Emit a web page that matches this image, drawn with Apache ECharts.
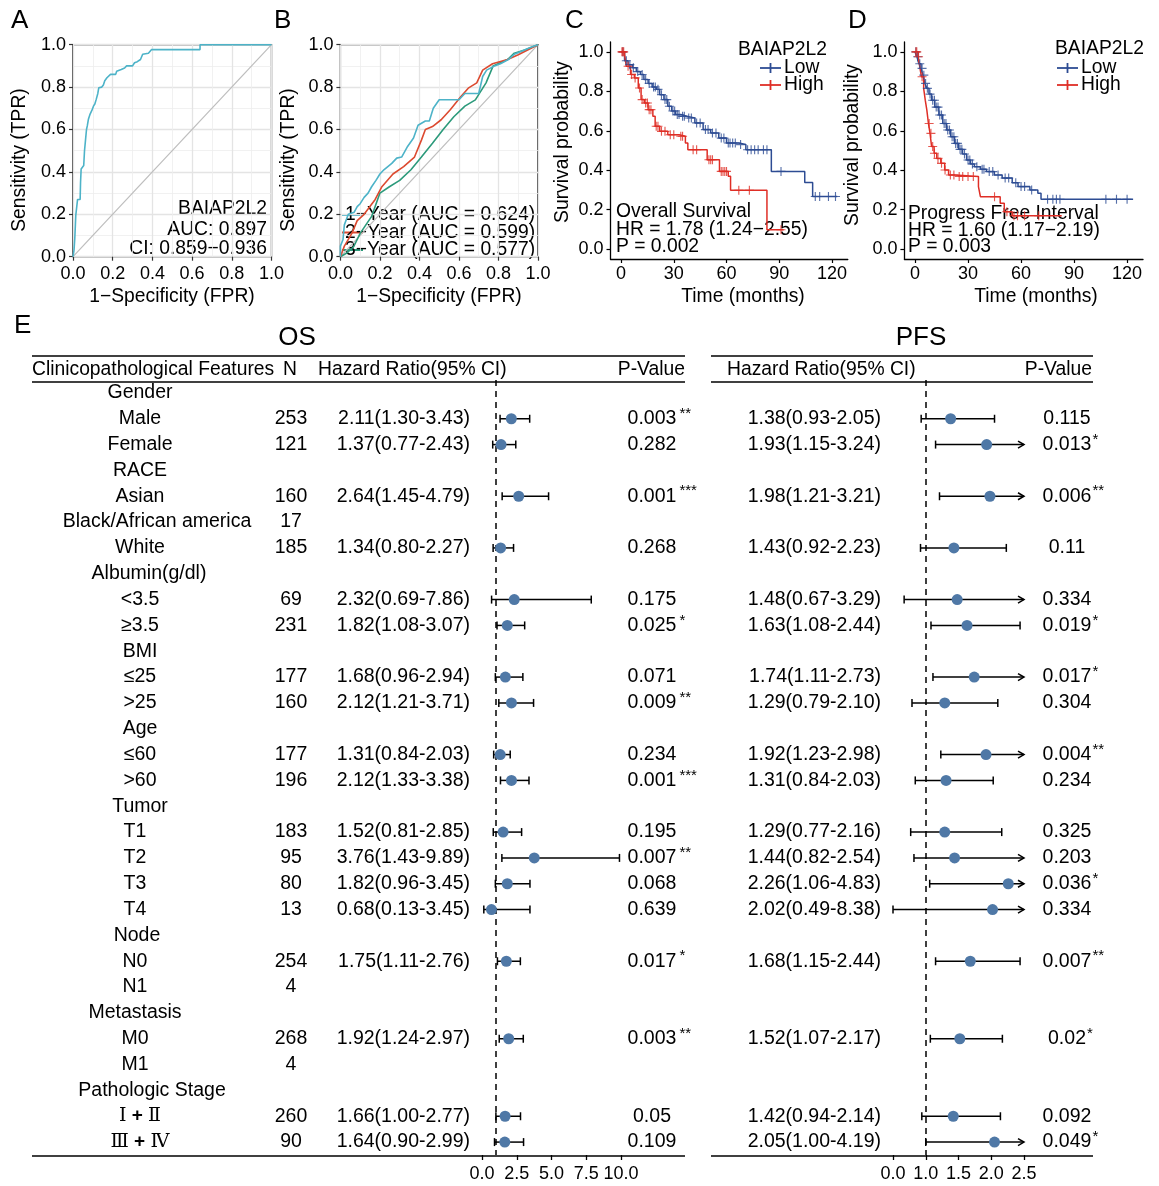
<!DOCTYPE html>
<html><head><meta charset="utf-8">
<script src="https://cdn.jsdelivr.net/npm/echarts@6/dist/echarts.min.js"></script>
<style>html,body{margin:0;padding:0;background:#fff}#c{width:1159px;height:1186px}</style>
</head><body><div id="c"></div><script>
// ---------------- DATA ----------------
const rocA = [[0,0],[0.005,0.03],[0.009,0.086],[0.012,0.15],[0.014,0.195],[0.02,0.2],[0.023,0.27],[0.036,0.27],[0.038,0.35],[0.041,0.414],[0.05,0.42],[0.054,0.43],[0.058,0.5],[0.063,0.55],[0.068,0.6],[0.072,0.617],[0.078,0.65],[0.085,0.67],[0.095,0.69],[0.103,0.71],[0.11,0.72],[0.117,0.742],[0.125,0.77],[0.13,0.797],[0.145,0.8],[0.153,0.81],[0.16,0.83],[0.171,0.844],[0.18,0.85],[0.189,0.86],[0.215,0.86],[0.22,0.875],[0.243,0.883],[0.26,0.89],[0.27,0.9],[0.3,0.9],[0.31,0.915],[0.324,0.92],[0.34,0.93],[0.351,0.955],[0.38,0.96],[0.396,0.977],[0.64,0.977],[0.64,1.0],[1,1]];
const rocB1 = [[0,0],[0,0.05],[0.013,0.08],[0.02,0.15],[0.04,0.2],[0.07,0.21],[0.085,0.236],[0.1,0.25],[0.12,0.28],[0.14,0.3],[0.158,0.33],[0.18,0.36],[0.2,0.39],[0.22,0.41],[0.24,0.425],[0.26,0.44],[0.285,0.465],[0.31,0.47],[0.34,0.52],[0.37,0.56],[0.393,0.62],[0.43,0.64],[0.45,0.64],[0.47,0.7],[0.5,0.74],[0.6,0.74],[0.63,0.77],[0.7,0.77],[0.72,0.85],[0.74,0.88],[0.78,0.9],[0.81,0.91],[0.85,0.93],[0.88,0.955],[0.92,0.97],[0.955,0.984],[1,1]];
const rocB2 = [[0,0],[0.02,0.05],[0.058,0.11],[0.085,0.17],[0.12,0.2],[0.176,0.27],[0.21,0.33],[0.266,0.39],[0.32,0.425],[0.375,0.47],[0.41,0.55],[0.43,0.6],[0.466,0.614],[0.51,0.646],[0.556,0.693],[0.61,0.756],[0.647,0.795],[0.69,0.82],[0.72,0.88],[0.77,0.91],[0.846,0.93],[0.9,0.953],[1,1]];
const rocB3 = [[0,0],[0.03,0.016],[0.067,0.047],[0.1,0.11],[0.158,0.19],[0.2,0.3],[0.248,0.33],[0.3,0.36],[0.357,0.41],[0.41,0.47],[0.466,0.535],[0.52,0.6],[0.574,0.66],[0.63,0.71],[0.683,0.74],[0.737,0.82],[0.773,0.9],[0.846,0.93],[0.88,0.96],[0.937,0.976],[1,1]];
const rocBNames = ['1\u2212Year (AUC = 0.624)','2\u2212Year (AUC = 0.599)','3\u2212Year (AUC = 0.577)'];

const osLowCurve = [[0,1],[2,0.955],[4,0.935],[6.5,0.92],[8.7,0.9],[11,0.885],[13,0.86],[15.4,0.84],[17.7,0.822],[20,0.81],[22,0.783],[24.4,0.758],[26.6,0.724],[28.8,0.70],[31,0.682],[34,0.673],[37.8,0.665],[42,0.64],[46.7,0.606],[51,0.589],[55.6,0.563],[60,0.538],[67,0.53],[71,0.504],[85.5,0.394],[104.5,0.338],[109,0.267],[123,0.267]];
const osLowCens = [[1,1],[3,0.955],[5,0.935],[7,0.92],[9.5,0.9],[12,0.885],[14,0.86],[16,0.84],[18.5,0.822],[19.5,0.822],[21,0.81],[23,0.783],[25,0.758],[26,0.758],[27.5,0.724],[29.5,0.70],[30.5,0.70],[32,0.682],[33,0.682],[35,0.673],[36,0.673],[38.5,0.665],[40,0.665],[43,0.64],[45,0.64],[48,0.606],[49.5,0.606],[52,0.589],[54,0.589],[57,0.563],[58.5,0.563],[61,0.538],[62,0.538],[63.5,0.538],[65,0.538],[68,0.53],[72,0.504],[74,0.504],[76,0.504],[78,0.504],[81,0.504],[83,0.504],[91,0.394],[110.5,0.267],[113,0.267],[118,0.267],[122,0.267]];
const osHighCurve = [[0,1],[2,0.986],[3,0.927],[5.4,0.885],[7.6,0.868],[9.8,0.817],[11.4,0.758],[13.2,0.741],[15.4,0.707],[18.1,0.673],[19.4,0.623],[22,0.597],[26.6,0.58],[33,0.572],[36.6,0.538],[38,0.504],[49,0.453],[56,0.394],[61,0.369],[62.3,0.298],[83,0.098],[92.5,0.098]];
const osHighCens = [[0.5,1],[1,1],[1.5,1],[4,0.927],[6,0.885],[8,0.868],[10.5,0.817],[12,0.758],[14,0.741],[15,0.741],[16,0.707],[17,0.707],[20,0.623],[21,0.623],[23,0.597],[25,0.597],[28,0.58],[30,0.58],[34,0.572],[35,0.572],[41,0.504],[43,0.504],[50,0.453],[51,0.453],[52,0.453],[57,0.394],[58,0.394],[59,0.394],[60,0.394],[67,0.298],[73,0.298],[91,0.098]];

const pfiLowCurve = [[0,1],[1.1,0.975],[2.2,0.94],[3.4,0.916],[4.5,0.882],[5.6,0.84],[6.7,0.815],[7.9,0.786],[9.4,0.755],[11.2,0.72],[13.5,0.68],[15.7,0.637],[17.9,0.604],[20.2,0.57],[22.4,0.536],[24.7,0.506],[26.9,0.482],[29.2,0.452],[31.4,0.432],[33.6,0.418],[37,0.405],[40.4,0.393],[44.9,0.376],[49.3,0.36],[55,0.337],[58.3,0.317],[65,0.30],[69.5,0.283],[71.3,0.253],[123.4,0.253]];
const pfiLowCens = [[0.5,1],[1.5,0.975],[2.7,0.94],[4,0.916],[5,0.882],[6,0.84],[7,0.815],[8.5,0.786],[10,0.755],[11,0.755],[12,0.72],[13,0.72],[14,0.68],[15,0.68],[16.5,0.637],[17.5,0.637],[18.5,0.604],[19.5,0.604],[21,0.57],[22,0.57],[23,0.536],[24,0.536],[25.5,0.506],[26.5,0.506],[28,0.482],[30,0.452],[31,0.452],[32.5,0.432],[35,0.418],[38,0.405],[39,0.405],[42,0.393],[44,0.393],[47,0.376],[51,0.36],[53,0.36],[57,0.337],[60,0.317],[62,0.317],[66,0.30],[75,0.253],[78,0.253],[80,0.253],[82,0.253],[108,0.253],[114,0.253],[120,0.253]];
const pfiHighCurve = [[0,1],[1.8,0.975],[2.7,0.924],[3.6,0.874],[4.9,0.815],[5.8,0.755],[6.7,0.705],[7.6,0.637],[8.5,0.587],[9.4,0.52],[10.8,0.486],[12.3,0.46],[14.6,0.435],[16.8,0.401],[19,0.376],[22.4,0.368],[35.9,0.317],[37,0.266],[48.2,0.233],[50.5,0.19],[55,0.169],[83,0.169]];
const pfiHighCens = [[0.5,1],[1,1],[2,0.975],[4,0.874],[8,0.637],[9,0.587],[10,0.52],[11,0.486],[13,0.46],[15,0.435],[17,0.401],[20,0.376],[22,0.376],[25,0.368],[27,0.368],[30,0.368],[33,0.368],[45,0.266],[52,0.19],[56,0.169],[58,0.169],[62,0.169],[70,0.169]];

const featureLabels = ['Gender','Male','Female','RACE','Asian','Black/African america','White','Albumin(g/dl)','<3.5','\u22653.5','BMI','\u226425','>25','Age','\u226460','>60','Tumor','T1','T2','T3','T4','Node','N0','N1','Metastasis','M0','M1','Pathologic Stage','\u2160 + \u2161','\u2162 + \u2163'];
const nCounts = ['','253','121','','160','17','185','','69','231','','177','160','','177','196','','183','95','80','13','','254','4','','268','4','','260','90'];
const osHR   = [null,2.11,1.37,null,2.64,null,1.34,null,2.32,1.82,null,1.68,2.12,null,1.31,2.12,null,1.52,3.76,1.82,0.68,null,1.75,null,null,1.92,null,null,1.66,1.64];
const osLow  = [null,1.30,0.77,null,1.45,null,0.80,null,0.69,1.08,null,0.96,1.21,null,0.84,1.33,null,0.81,1.43,0.96,0.13,null,1.11,null,null,1.24,null,null,1.00,0.90];
const osHigh = [null,3.43,2.43,null,4.79,null,2.27,null,7.86,3.07,null,2.94,3.71,null,2.03,3.38,null,2.85,9.89,3.45,3.45,null,2.76,null,null,2.97,null,null,2.77,2.99];
const osP    = ['','0.003','0.282','','0.001','','0.268','','0.175','0.025','','0.071','0.009','','0.234','0.001','','0.195','0.007','0.068','0.639','','0.017','','','0.003','','','0.05','0.109'];
const osStars= ['','**','','','***','','','','','*','','','**','','','***','','','**','','','','*','','','**','','','',''];
const pfsHR  = [null,1.38,1.93,null,1.98,null,1.43,null,1.48,1.63,null,1.74,1.29,null,1.92,1.31,null,1.29,1.44,2.26,2.02,null,1.68,null,null,1.52,null,null,1.42,2.05];
const pfsLow = [null,0.93,1.15,null,1.21,null,0.92,null,0.67,1.08,null,1.11,0.79,null,1.23,0.84,null,0.77,0.82,1.06,0.49,null,1.15,null,null,1.07,null,null,0.94,1.00];
const pfsHigh= [null,2.05,3.24,null,3.21,null,2.23,null,3.29,2.44,null,2.73,2.10,null,2.98,2.03,null,2.16,2.54,4.83,8.38,null,2.44,null,null,2.17,null,null,2.14,4.19];
const pfsP   = ['','0.115','0.013','','0.006','','0.11','','0.334','0.019','','0.017','0.304','','0.004','0.234','','0.325','0.203','0.036','0.334','','0.007','','','0.02','','','0.092','0.049'];
const pfsStars=['','','*','','**','','','','','*','','*','','','**','','','','','*','','','**','','','*','','','','*'];
const pfsTickLabels = ['0.0','1.0','1.5','2.0','2.5'];
const kmTicks = [0,30,60,90,120];
const probTicks = [0,0.2,0.4,0.6,0.8,1.0];

// ---------------- STYLE ----------------
const FONT = '"Liberation Sans", Arial, Helvetica, sans-serif';
const SERIF = '"Liberation Serif","DejaVu Serif",serif';
const C_CYAN = '#4DB3C8', C_RED = '#DC4A30', C_GREEN = '#2C9A7B';
const C_LOW = '#2D4C93', C_HIGH = '#DF2E26', C_DOT = '#4F78A6';
const PLUS = 'path://M7,0 H9 V7 H16 V9 H9 V16 H7 V9 H0 V7 H7 Z';
const TICK = 18, TITLE = 19.3, TXT = 19.5, HDR = 19.3;
// horizontal nudges for the feature-label column (layout only)
const labelCenter = 140;
const labelShift = {5:17, 7:9, 27:12, 24:-5, 17:-5, 18:-5, 19:-5, 20:-5, 22:-5, 23:-5, 25:-5, 26:-5, 21:-3};

const mctx = document.createElement('canvas').getContext('2d');
function tw(s, size){ mctx.font = size + 'px ' + FONT; return mctx.measureText(s).width; }

function T(x, y, text, size, align, valign, extra) {
  const el = {type:'text', x:x, y:y, silent:true, style:{text:text, font: size + 'px ' + FONT, fill:'#000',
    textAlign: align || 'left', textVerticalAlign: valign || 'middle', align: align || 'left', verticalAlign: valign || 'middle'}};
  return Object.assign(el, extra || {});
}
function L(x1,y1,x2,y2,w,col){ return {type:'line', silent:true, shape:{x1,y1,x2,y2}, style:{stroke:col||'#000', lineWidth:w||1.5}}; }

const chart = echarts.init(document.getElementById('c'), null, {renderer:'canvas'});

const grids = [
  {left:73, top:44.7, width:198.5, height:212, show:true, borderColor:'#000', borderWidth:1.3, backgroundColor:'#fff'},
  {left:340.4, top:44.7, width:197.6, height:212, show:true, borderColor:'#000', borderWidth:1.3, backgroundColor:'#fff'},
  {left:610.5, top:42, width:237.3, height:217},
  {left:904.4, top:42, width:238.6, height:217},
  {left:482, top:380, width:139, height:775},
  {left:893, top:380, width:131, height:775}
];

function rocAx(gi, isY){ return {gridIndex:gi, type:'value', min:0, max:1, interval:0.2,
  axisLine:{show:false, onZero:false}, axisTick:{show:true, length:4, lineStyle:{color:'#333', width:1.2}},
  axisLabel:{fontSize:TICK, color:'#000', margin:isY ? 7 : 8, fontFamily:FONT, formatter:v=>v.toFixed(1)},
  splitLine:{show:true, lineStyle:{color:'#E4E4E4', width:1.3}},
  minorTick:{show:false, splitNumber:2}, minorSplitLine:{show:true, lineStyle:{color:'#EDEDED', width:0.8}}}; }
function kmX(gi){ return {gridIndex:gi, type:'value', min:-6, max:129,
  axisLine:{show:true, onZero:false, lineStyle:{color:'#000', width:1.3}},
  axisTick:{show:true, length:4, customValues:kmTicks, lineStyle:{color:'#000', width:1.2}},
  axisLabel:{fontSize:TICK, color:'#000', margin:6, fontFamily:FONT, customValues:kmTicks},
  splitLine:{show:false}}; }
function kmY(gi){ return {gridIndex:gi, type:'value', min:-0.05, max:1.05,
  axisLine:{show:true, onZero:false, lineStyle:{color:'#000', width:1.3}},
  axisTick:{show:true, length:4, customValues:probTicks, lineStyle:{color:'#000', width:1.2}},
  axisLabel:{fontSize:TICK, color:'#000', margin:7, fontFamily:FONT, customValues:probTicks, formatter:v=>v.toFixed(1)},
  splitLine:{show:false}}; }

const xAxes = [rocAx(0,false), rocAx(1,false), kmX(2), kmX(3),
  {gridIndex:4, type:'value', min:0, max:10, interval:2.5,
   axisLine:{show:false, onZero:false}, axisTick:{show:true, length:5, lineStyle:{color:'#000', width:1.3}},
   axisLabel:{fontSize:TICK, color:'#000', margin:10, fontFamily:FONT, formatter:v=>v.toFixed(1)}, splitLine:{show:false}},
  {gridIndex:5, type:'value', min:0.5, max:2.5, interval:0.5,
   axisLine:{show:false, onZero:false}, axisTick:{show:true, length:5, lineStyle:{color:'#000', width:1.3}},
   axisLabel:{fontSize:TICK, color:'#000', margin:10, fontFamily:FONT, formatter:(v,idx)=>pfsTickLabels[idx]}, splitLine:{show:false}}
];
const rowCats = featureLabels.map((f,i)=>String(i));
const yAxes = [rocAx(0,true), rocAx(1,true), kmY(2), kmY(3),
  {gridIndex:4, type:'category', data:rowCats, inverse:true, show:false},
  {gridIndex:5, type:'category', data:rowCats, inverse:true, show:false}
];

function lineS(gi, data, color, step, w){ return {type:'line', xAxisIndex:gi, yAxisIndex:gi, data, step:step||false,
  showSymbol:false, symbol:'none', lineStyle:{color, width:w||1.5}, itemStyle:{color}, silent:true, z:3}; }
function censS(gi, data, color){ return {type:'scatter', xAxisIndex:gi, yAxisIndex:gi, data, symbol:PLUS, symbolSize:9,
  itemStyle:{color}, silent:true, z:4}; }

function forestSeries(gi, hr, lo, hi, xmin, xmax){
  const data = [];
  hr.forEach((h,i)=>{ if(h!=null) data.push([h, i, lo[i], hi[i]]); });
  return {type:'custom', xAxisIndex:gi, yAxisIndex:gi, data, clip:false, silent:true, encode:{x:0, y:1}, z:5,
    renderItem(params, api){
      const r = api.value(1);
      const p = api.coord([api.value(0), r]);
      const lv = Math.max(api.value(2), xmin), hv = Math.min(api.value(3), xmax);
      const xl = api.coord([lv, r])[0], xh = api.coord([hv, r])[0];
      const y = p[1];
      const st = {stroke:'#000', lineWidth:1.5};
      const ch = [
        {type:'line', shape:{x1:xl, y1:y, x2:xh, y2:y}, style:st},
        {type:'line', shape:{x1:xl, y1:y-4, x2:xl, y2:y+4}, style:st}
      ];
      if (api.value(3) > xmax) {
        ch.push({type:'polyline', shape:{points:[[xh-6,y-3.5],[xh,y],[xh-6,y+3.5]]}, style:{stroke:'#000', lineWidth:1.5, fill:null}});
      } else {
        ch.push({type:'line', shape:{x1:xh, y1:y-4, x2:xh, y2:y+4}, style:st});
      }
      ch.push({type:'circle', shape:{cx:p[0], cy:y, r:5.5}, style:{fill:C_DOT}});
      return {type:'group', children:ch};
    },
    markLine:{silent:true, symbol:'none', label:{show:false}, animation:false,
      lineStyle:{color:'#000', width:1.5, type:[6,5]}, data:[{xAxis:1}]}
  };
}

function tableSeries(){
  return {type:'custom', xAxisIndex:4, yAxisIndex:4, clip:false, silent:true, z:6,
    data: featureLabels.map((f,i)=>[0,i]), encode:{x:0, y:1},
    renderItem(params, api){
      const i = params.dataIndex;
      const y = api.coord([0, i])[1];
      const ch = [];
      const mk = (x, text, align, size, dy, fam) => ({type:'text', style:{text, x, y:y+(dy||0),
        font:(size||TXT)+'px '+(fam||FONT), fill:'#000', textAlign:align, textVerticalAlign:'middle', align:align, verticalAlign:'middle'}});
      const lab = featureLabels[i];
      const lx = labelCenter + (labelShift[i] || 0);
      if (/[\u2160-\u2163]/.test(lab)) {
        ch.push({type:'text', style:{text:'{r|' + lab.replace(' + ', '}{p| + }{r|') + '}', x:lx, y:y,
          textAlign:'center', textVerticalAlign:'middle', align:'center', verticalAlign:'middle',
          rich:{r:{fontFamily:SERIF, fontSize:19, fill:'#000', color:'#000'}, p:{fontFamily:FONT, fontSize:19, fontWeight:'bold', fill:'#000', color:'#000'}}}});
      } else {
        ch.push(mk(lx, lab, 'center'));
      }
      if (nCounts[i]) ch.push(mk(291, nCounts[i], 'center'));
      if (osHR[i] != null) {
        ch.push(mk(470, osHR[i].toFixed(2)+'('+osLow[i].toFixed(2)+'-'+osHigh[i].toFixed(2)+')', 'right'));
        ch.push(mk(652, osP[i], 'center'));
        if (osStars[i]) ch.push(mk(652 + tw(osP[i], TXT)/2 + 3, osStars[i], 'left', 15, -5));
      }
      if (pfsHR[i] != null) {
        ch.push(mk(881, pfsHR[i].toFixed(2)+'('+pfsLow[i].toFixed(2)+'-'+pfsHigh[i].toFixed(2)+')', 'right'));
        ch.push(mk(1067, pfsP[i], 'center'));
        if (pfsStars[i]) ch.push(mk(1067 + tw(pfsP[i], TXT)/2 + 1, pfsStars[i], 'left', 15, -5));
      }
      return {type:'group', children:ch};
    }
  };
}

const series = [
  lineS(0, [[0,0],[1,1]], '#BDBDBD', false, 1.2),
  lineS(0, rocA, C_CYAN, false, 1.6),
  lineS(1, [[0,0],[1,1]], '#BDBDBD', false, 1.2),
  lineS(1, rocB3, C_GREEN, false, 1.6),
  lineS(1, rocB2, C_RED, false, 1.6),
  lineS(1, rocB1, C_CYAN, false, 1.6),
  lineS(2, osLowCurve, C_LOW, 'end', 1.5), censS(2, osLowCens, C_LOW),
  lineS(2, osHighCurve, C_HIGH, 'end', 1.5), censS(2, osHighCens, C_HIGH),
  lineS(3, pfiLowCurve, C_LOW, 'end', 1.5), censS(3, pfiLowCens, C_LOW),
  lineS(3, pfiHighCurve, C_HIGH, 'end', 1.5), censS(3, pfiHighCens, C_HIGH),
  forestSeries(4, osHR, osLow, osHigh, 0, 10),
  forestSeries(5, pfsHR, pfsLow, pfsHigh, 0.5, 2.5),
  tableSeries()
];

// ---------------- GRAPHIC (labels, titles, table rules) ----------------
const g = [];
g.push(T(11, 21, 'A', 26, 'left'), T(274, 21, 'B', 26, 'left'), T(565, 21, 'C', 26, 'left'), T(848, 21, 'D', 26, 'left'), T(14, 326, 'E', 26, 'left'));
g.push(T(20, 160, 'Sensitivity (TPR)', TITLE, 'center', 'middle', {rotation:Math.PI/2}));
g.push(T(289, 160, 'Sensitivity (TPR)', TITLE, 'center', 'middle', {rotation:Math.PI/2}));
g.push(T(172, 297, '1\u2212Specificity (FPR)', TITLE, 'center'));
g.push(T(439, 297, '1\u2212Specificity (FPR)', TITLE, 'center'));
g.push(T(563, 142, 'Survival probability', TITLE, 'center', 'middle', {rotation:Math.PI/2}));
g.push(T(853, 145, 'Survival probability', TITLE, 'center', 'middle', {rotation:Math.PI/2}));
g.push(T(743, 297, 'Time (months)', TITLE, 'center'));
g.push(T(1036, 297, 'Time (months)', TITLE, 'center'));
g.push(T(267, 209, 'BAIAP2L2', TITLE, 'right'), T(267, 230, 'AUC: 0.897', TITLE, 'right'), T(267, 249, 'CI: 0.859\u22120.936', TITLE, 'right'));
[[C_CYAN,215],[C_RED,232.5],[C_GREEN,250]].forEach((c,k)=>{
  g.push(L(342, c[1], 363, c[1], 2, c[0]));
  g.push(T(345, c[1], rocBNames[k], TITLE, 'left'));
});
function kmLegend(x0, xt, ytitle){
  g.push(T(xt, ytitle, 'BAIAP2L2', TITLE, 'left'));
  [[C_LOW,'Low',68],[C_HIGH,'High',85]].forEach(r=>{
    g.push(L(x0, r[2], x0+21, r[2], 1.8, r[0]));
    g.push(L(x0+10.5, r[2]-5, x0+10.5, r[2]+5, 1.8, r[0]));
    g.push(T(x0+24, r[2], r[1], TITLE, 'left'));
  });
}
kmLegend(760, 738, 50);
kmLegend(1057, 1055, 49);
g.push(T(616, 212, 'Overall Survival', TITLE, 'left'), T(616, 230, 'HR = 1.78 (1.24\u22122.55)', TITLE, 'left'), T(616, 247, 'P = 0.002', TITLE, 'left'));
g.push(T(908, 214, 'Progress Free Interval', TITLE, 'left'), T(908, 231, 'HR = 1.60 (1.17\u22122.19)', TITLE, 'left'), T(908, 247, 'P = 0.003', TITLE, 'left'));
g.push(T(297, 338, 'OS', 26, 'center'), T(921, 338, 'PFS', 26, 'center'));
[[32,685],[711,1093]].forEach(s=>{
  g.push(L(s[0], 356, s[1], 356, 1.6), L(s[0], 382, s[1], 382, 1.6), L(s[0], 1156, s[1], 1156, 1.6));
});
g.push(T(32, 370, 'Clinicopathological Features', HDR, 'left'), T(283, 370, 'N', HDR, 'left'),
       T(318, 370, 'Hazard Ratio(95% CI)', HDR, 'left'), T(685, 370, 'P-Value', HDR, 'right'));
g.push(T(727, 370, 'Hazard Ratio(95% CI)', HDR, 'left'), T(1092, 370, 'P-Value', HDR, 'right'));

chart.setOption({
  animation:false,
  backgroundColor:'#fff',
  textStyle:{fontFamily:FONT},
  grid:grids, xAxis:xAxes, yAxis:yAxes, series, graphic:g
});
</script></body></html>
